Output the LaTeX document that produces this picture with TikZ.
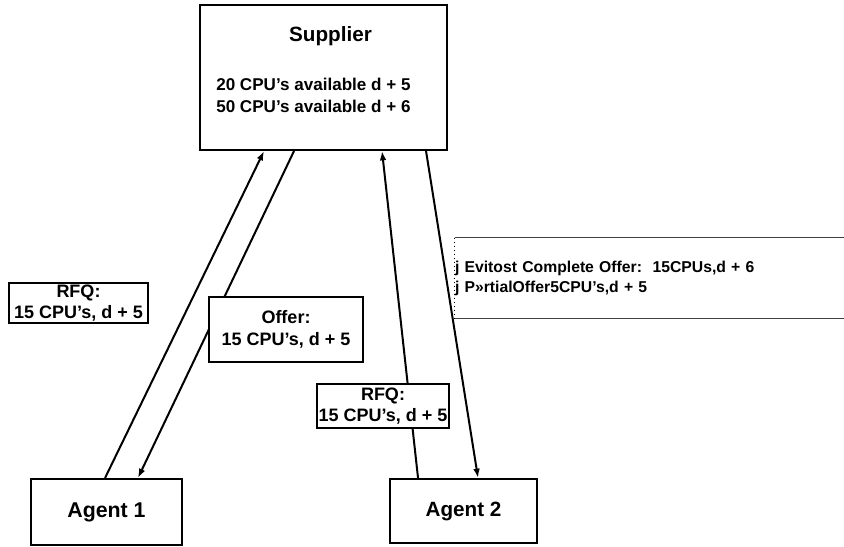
\documentclass[tikz,border=0pt]{standalone}
\usepackage{fontspec}
\setmainfont{Liberation Sans}
\usetikzlibrary{arrows.meta}

\begin{document}
\begin{tikzpicture}[x=0.75pt,y=-0.75pt,
	box/.style={draw,line width=1.5pt,fill=white,inner sep=0pt},
	tag/.style={draw,line width=1.3pt,fill=white,inner sep=0pt,align=center,
		font=\bfseries\fontsize{13.5}{16}\selectfont},
	msg/.style={line width=1.5pt,-{Latex[length=7pt,width=5pt]}}]
\useasboundingbox (0,0) rectangle (844,547);
\node[box,minimum width=185.25pt,minimum height=108.75pt] (supplier) at (323.5,77.5) {};
\node[font=\bfseries\fontsize{15.5}{18}\selectfont,anchor=base] (suptitle) at (330.5,41) {Supplier};
\node[font=\bfseries\fontsize{12.8}{16.5}\selectfont,align=left,anchor=west,inner sep=0pt] (stock) at (216,95)
	{20 CPU's available d + 5\\50 CPU's available d + 6};
\node[box,minimum width=113.25pt,minimum height=49.5pt,font=\bfseries\fontsize{16}{19}\selectfont] (agent1) at (106.5,512) {Agent 1};
\node[box,minimum width=110.25pt,minimum height=48pt,font=\bfseries\fontsize{15.5}{18}\selectfont] (agent2) at (463.5,511) {Agent 2};

\draw[msg] ([xshift=-1.1pt]agent1.north) -- ([xshift=-44.6pt]supplier.south);
\draw[msg] ([xshift=-22.1pt]supplier.south) -- ([xshift=23.6pt]agent1.north);
\draw[msg] ([xshift=-34.1pt]agent2.north) -- ([xshift=43.9pt]supplier.south);
\draw[msg] ([xshift=76.9pt]supplier.south) -- ([xshift=10.9pt]agent2.north);

\node[tag,minimum width=104.25pt,minimum height=30pt] (rfq1) at (78.5,303) {RFQ:\\15 CPU's, d + 5};
\node[tag,minimum width=115.5pt,minimum height=48.75pt] (offer1) at (286,329.5) {Offer:\\15 CPU's, d + 5};
\node[tag,minimum width=99pt,minimum height=33pt] (rfq2) at (383,406) {RFQ:\\15 CPU's, d + 5};

\node[inner xsep=0pt,inner ysep=0pt,minimum height=60pt,text width=291.75pt,align=left,
	font=\bfseries\fontsize{11.8}{15}\selectfont] (offers) at (649.5,278)
	{j Evitost Complete Offer:\ \ 15CPUs,d + 6\\j P»rtialOffer5CPU's,d + 5};
\draw[line width=0.8pt,black!75] (offers.north west) -- (offers.north east);
\draw[line width=0.8pt,black!75] (offers.south west) -- (offers.south east);
\draw[line width=1pt,dotted] (offers.north west) -- (offers.south west);
\end{tikzpicture}
\end{document}
